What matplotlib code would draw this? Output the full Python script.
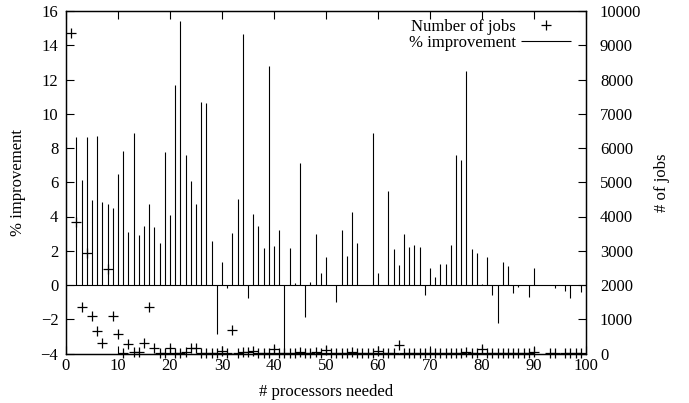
import numpy as np
import matplotlib
matplotlib.use("Agg")
import matplotlib.pyplot as plt

plt.rcParams['font.family'] = ['Liberation Serif', 'DejaVu Serif']
plt.rcParams['font.size'] = 12

# % improvement per processor count (impulses)
procs = list(range(1, 91)) + [93, 94, 96, 97, 98, 99]
improvement = [
    0.0, 8.63, 6.15, 8.66, 4.98, 8.72, 4.83, 4.75, 4.5, 6.49,
    7.81, 3.12, 8.86, 2.91, 3.43, 4.73, 3.37, 2.44, 7.79, 4.07,
    11.65, 15.39, 7.6, 6.09, 4.73, 10.68, 10.64, 2.58, -2.85, 1.32,
    -0.15, 3.05, 5.04, 14.67, -0.73, 4.15, 3.43, 2.15, 12.77, 2.25,
    3.24, -4.0, 2.15, 0.1, 7.15, -1.86, 0.15, 2.99, 0.72, 1.63,
    0.0, -0.97, 3.24, 1.67, 4.24, 2.46, 0.0, 0.0, 8.88, 0.72,
    0.0, 5.51, 2.1, 1.19, 2.99, 2.19, 2.31, 2.23, -0.58, 1.01,
    0.45, 1.2, 1.2, 2.31, 7.58, 7.31, 12.5, 2.08, 1.84, 0.04,
    1.61, -0.56, -2.21, 1.32, 1.09, -0.48, -0.14, 0.0, -0.7, 1.01,
    0.0, -0.19, -0.35, -0.73, 0.0, -0.41,
]

# number of jobs per processor count
jobs = [
    9370, 3830, 1360, 2940, 1087, 650, 312, 2480, 1087, 583,
    20, 291, 40, 40, 312, 1360, 146, 10, 10, 165,
    15, 15, 50, 175, 175, 20, 20, 20, 20, 68,
    20, 680, 20, 30, 30, 78, 20, 20, 20, 120,
    15, 10, 20, 20, 30, 15, 20, 40, 20, 100,
    15, 15, 20, 15, 30, 15, 15, 20, 20, 70,
    15, 20, 20, 240, 15, 15, 20, 15, 15, 20,
    15, 15, 20, 15, 15, 20, 30, 15, 15, 140,
    15, 15, 20, 15, 15, 15, 15, 15, 15, 40,
    15, 15, 15, 15, 15, 15,
]

fig = plt.figure(figsize=(6.89, 4.03), dpi=100)
ax = fig.add_axes([66 / 689, 1 - 353.5 / 403, 520 / 689, 342.5 / 403])
ax2 = ax.twinx()

ax.axhline(0, color='black', lw=0.8)
bars = ax.vlines(procs, 0, improvement, colors='black', lw=0.8)
pts, = ax2.plot(procs, jobs, '+', color='black', ms=7, mew=0.9, clip_on=False)

ax.set_xlim(0, 100)
ax.set_ylim(-4, 16)
ax2.set_ylim(0, 10000)
ax.set_xticks(range(0, 101, 10))
ax.set_yticks(range(-4, 17, 2))
ax2.set_yticks(range(0, 10001, 1000))

ax.tick_params(axis='x', direction='in', length=6, width=0.8, top=True, pad=3)
ax.tick_params(axis='y', direction='in', length=6, width=0.8, right=False, pad=5.5)
ax2.tick_params(axis='y', direction='in', length=6, width=0.8, pad=10)
for a in (ax, ax2):
    for s in a.spines.values():
        s.set_linewidth(0.9)

ax.set_xlabel('# processors needed')
ax.set_ylabel('% improvement')
ax2.set_ylabel('# of jobs')
ax.xaxis.set_label_coords(0.5, (353.5 - 391.7) / 342.5)
ax.xaxis.label.set_va('center')
ax.yaxis.set_label_coords((18 - 66) / 520, 0.5)
ax.yaxis.label.set_va('center')
ax2.yaxis.set_label_coords((661.7 - 66) / 520, 0.5)
ax2.yaxis.label.set_va('center')

leg = ax2.legend([pts, bars], ['Number of jobs', '% improvement'],
                 loc='upper right', bbox_to_anchor=((571 - 66) / 520, 1 - 8 / 342.5),
                 frameon=False, markerfirst=False, handlelength=3.0,
                 handletextpad=0.3, labelspacing=0.0, borderaxespad=0,
                 borderpad=0, fontsize=12)
for t in leg.get_texts():
    t.set_ha('right')

fig.savefig('out.png', dpi=100)
